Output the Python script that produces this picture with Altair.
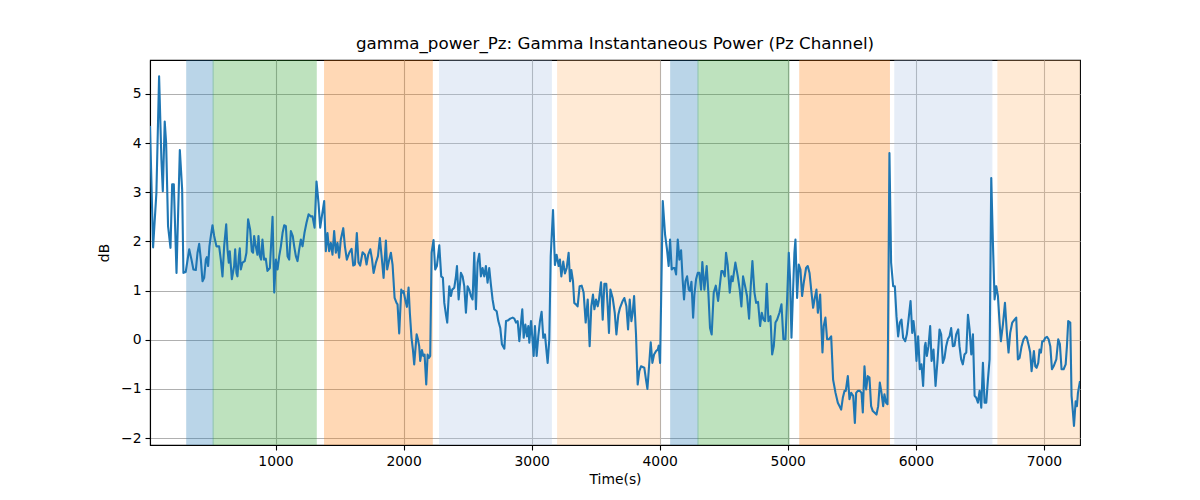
import altair as alt
import pandas as pd

# ---- line data (time in s, power in dB) ----
t_a = [20, 44, 70, 91, 109, 120, 135, 146, 161, 180, 193, 206, 227, 253, 271, 281, 299, 326, 344, 359,
       378, 391, 404, 417, 430, 443, 456, 464, 474, 484, 495, 508, 521, 539, 560, 573, 586, 599, 615, 625,
       635, 643, 659, 677, 685, 695, 703, 714, 721, 729, 742, 760, 773, 786, 802, 815, 825, 833, 846, 859,
       867, 878, 888, 898, 911, 924, 937, 956, 977, 990, 1003, 1016, 1029, 1042, 1055, 1068, 1081, 1094, 1107, 1120,
       1135, 1146, 1159, 1172, 1185, 1198, 1211, 1226]
v_a = [4.35, 1.88, 2.99, 5.36, 3.67, 3.02, 4.44, 4.00, 2.31, 1.87, 3.16, 3.16, 1.36, 3.86, 3.06, 1.36, 1.38, 1.84, 1.63, 1.43,
       1.42, 1.77, 1.95, 1.63, 1.19, 1.26, 1.63, 1.68, 1.50, 1.90, 2.11, 2.33, 2.11, 1.90, 1.90, 1.63, 1.29, 1.90, 2.35, 1.84,
       1.57, 1.80, 1.23, 1.50, 1.84, 1.36, 1.29, 1.70, 1.86, 1.43, 1.57, 1.60, 1.77, 2.45, 2.24, 1.80, 1.77, 2.11, 1.90, 1.73,
       2.11, 1.70, 1.63, 2.04, 1.63, 1.65, 1.40, 1.46, 2.50, 0.96, 1.63, 1.43, 1.70, 1.90, 2.17, 2.33, 2.31, 1.70, 1.63, 2.21,
       2.11, 1.90, 1.70, 1.60, 1.84, 2.04, 1.90, 2.17]

t_b = [1242, 1258, 1276, 1289, 1305, 1320, 1336, 1349, 1362, 1380, 1393, 1406, 1419, 1432, 1445, 1458, 1471, 1484, 1497, 1510,
       1529, 1542, 1557, 1576, 1594, 1607, 1620, 1635, 1648, 1661, 1680, 1698, 1711, 1724, 1740, 1753, 1766, 1784, 1800, 1815,
       1831, 1844, 1862, 1872, 1888, 1901, 1914, 1930, 1945, 1953, 1966, 1982, 1992, 2000, 2013, 2026, 2039, 2049, 2062, 2073,
       2083, 2102, 2112, 2122, 2130, 2143, 2154, 2164, 2177, 2188, 2198, 2208, 2219, 2234, 2247, 2260, 2279, 2294, 2307, 2318,
       2331, 2341, 2357, 2370, 2380, 2396, 2409, 2417, 2430]
v_b = [2.38, 2.55, 2.51, 2.51, 2.28, 3.22, 2.78, 2.28, 2.51, 2.82, 1.80, 2.17, 1.80, 1.97, 1.73, 2.21, 1.77, 1.97, 1.67, 2.04,
       2.27, 1.90, 1.63, 1.77, 1.85, 1.51, 1.53, 2.17, 1.57, 1.51, 1.78, 1.73, 1.53, 1.73, 1.84, 1.65, 1.36, 1.57, 1.70, 2.07,
       1.63, 1.26, 2.02, 1.43, 1.63, 1.77, 1.53, 0.85, 0.75, 0.72, 0.13, 1.02, 0.96, 0.99, 0.82, 0.67, 1.06, 0.55, 0.04, -0.20,
       -0.50, 0.11, 0.01, -0.13, -0.43, -0.21, -0.33, -0.30, -0.91, -0.30, -0.37, -0.33, 1.77, 2.03, 1.43, 1.50, 1.92, 1.29, 1.26, 0.75,
       0.51, 0.35, 1.09, 0.89, 1.02, 1.06, 1.29, 1.50, 0.82]

t_c = [2448, 2461, 2474, 2487, 2500, 2513, 2526, 2539, 2552, 2565, 2578, 2591, 2604, 2617, 2630, 2643, 2656, 2669, 2682, 2695,
       2708, 2727, 2740, 2755, 2768, 2787, 2800, 2813, 2833, 2852, 2865, 2878, 2891, 2904, 2917, 2927, 2938, 2951, 2964, 2974,
       2982, 2995, 3005, 3016, 3026, 3039, 3052, 3065, 3078, 3091, 3104, 3115, 3125, 3138, 3149, 3167, 3182, 3195, 3211, 3221,
       3232, 3247, 3260, 3274, 3289, 3300, 3310, 3323, 3333, 3346, 3359, 3375, 3391, 3406, 3422, 3438, 3453, 3466, 3479, 3490,
       3503, 3516, 3526, 3542, 3555, 3568, 3583, 3594, 3604, 3615, 3633, 3649]
v_c = [1.36, 1.29, 1.09, 0.55, 1.09, 1.02, 0.89, 0.82, 1.77, 0.62, 1.57, 1.75, 1.29, 1.46, 1.29, 1.50, 1.16, 1.46, 1.12, 0.82,
       0.62, 0.58, 0.38, 0.24, -0.09, -0.18, 0.38, 0.39, 0.43, 0.45, 0.43, 0.35, 0.38, -0.03, 0.35, 0.62, 0.04, 0.31, 0.07, 0.28,
       -0.06, 0.38, 0.07, -0.33, 0.28, -0.33, 0.07, 0.38, 0.57, 0.04, 0.11, -0.20, -0.47, 0.01, 1.70, 2.64, 1.52, 1.73, 1.50, 1.63,
       1.29, 1.59, 1.35, 1.46, 1.77, 1.19, 1.42, 1.19, 0.75, 0.72, 0.68, 1.09, 1.10, 0.96, 0.35, 0.82, -0.13, 0.68, 0.92, 0.62,
       0.82, 0.68, 0.82, 1.17, 0.41, 1.14, 1.14, 0.68, 0.14, 1.02, 0.85, 0.55]

t_d = [3662, 3677, 3690, 3711, 3724, 3740, 3753, 3766, 3779, 3789, 3800, 3815, 3828, 3841, 3854, 3880, 3893, 3904, 3914, 3930,
       3943, 3956, 3972, 3985, 3992, 4003, 4024, 4042, 4057, 4070, 4081, 4094, 4107, 4117, 4128, 4141, 4154, 4167, 4180, 4190,
       4201, 4214, 4227, 4237, 4248, 4261, 4271, 4284, 4297, 4310, 4323, 4333, 4349, 4367, 4380, 4393, 4406, 4422, 4438, 4456,
       4466, 4482, 4492, 4508, 4518, 4531, 4547, 4560, 4570, 4591, 4610, 4625, 4638, 4651, 4667, 4682, 4698, 4711, 4724, 4740,
       4753, 4768, 4784, 4797, 4810, 4823, 4836, 4849]
v_d = [0.11, 0.51, 0.65, 0.79, 0.85, 0.68, 0.21, 0.82, 0.38, 0.55, 0.89, 0.11, -0.91, -0.64, -0.54, -0.57, -0.81, -1.00, -0.64, -0.05,
       -0.47, -0.30, -0.23, -0.20, -0.12, -0.47, 2.82, 2.14, 1.84, 1.50, 2.04, 1.43, 1.46, 1.46, 1.33, 2.04, 1.63, 1.82, 1.19, 0.82,
       1.19, 1.29, 1.02, 0.99, 1.18, 0.45, 0.92, 1.23, 1.36, 1.36, 1.02, 1.58, 1.02, 1.50, 0.96, 0.24, 0.11, 0.96, 1.10, 0.79,
       1.02, 1.40, 1.40, 1.29, 1.77, 1.53, 0.96, 1.29, 1.19, 1.57, 1.29, 1.02, 0.68, 1.29, 1.09, 0.89, 0.43, 1.09, 1.60, 0.96,
       0.75, 0.77, 0.28, 0.55, 0.41, 0.38, 1.14, 0.38]

t_e = [4865, 4878, 4891, 4904, 4917, 4935, 4951, 4966, 4982, 4995, 5008, 5018, 5029, 5039, 5052, 5060, 5073, 5086, 5099, 5112,
       5125, 5143, 5156, 5170, 5183, 5198, 5209, 5224, 5235, 5242, 5253, 5261, 5271, 5281, 5294, 5307, 5321, 5339, 5354, 5373,
       5391, 5404, 5417, 5430, 5443, 5453, 5469, 5482, 5495, 5511, 5524, 5534, 5547, 5563, 5576, 5586, 5599, 5612, 5625, 5638,
       5651, 5664, 5677, 5693, 5706, 5719, 5732, 5745, 5755, 5768, 5779, 5794, 5807, 5823, 5836, 5849, 5862, 5875, 5888, 5901,
       5917, 5930, 5943, 5959, 5972, 5982, 5995, 6005, 6018, 6031, 6044, 6057, 6070]
v_e = [0.48, -0.30, -0.13, 0.35, 0.41, 0.55, 0.72, 0.01, 0.01, 0.82, 1.77, 1.23, 0.04, 0.82, 1.77, 2.04, 0.85, 1.53, 1.43, 0.89,
       1.16, 1.46, 1.50, 1.36, 1.02, 0.65, 0.82, 1.02, 0.55, 0.68, 0.92, 0.35, -0.26, 0.28, 0.45, 0.01, 0.01, 0.07, -0.81, -1.08,
       -1.28, -1.35, -1.42, -1.18, -1.04, -1.04, -0.74, -1.21, -1.08, -1.14, -1.69, -1.08, -1.04, -1.04, -1.08, -1.48, -0.54, -1.01, -0.74, -0.77,
       -1.35, -1.45, -1.48, -1.52, -1.35, -0.87, -1.08, -1.35, -1.11, -1.28, -1.31, 3.80, 1.57, 1.09, 1.09, 0.48, 0.07, 0.35, 0.41, 0.04,
       -0.03, 0.11, 0.41, 0.79, 0.14, 0.38, 0.07, -0.43, 0.07, -0.60, -0.50, -0.94, -0.13]

t_f = [6076, 6086, 6099, 6112, 6123, 6138, 6154, 6170, 6185, 6198, 6211, 6224, 6237, 6250, 6263, 6276, 6289, 6302, 6315, 6331,
       6341, 6354, 6367, 6380, 6394, 6407, 6420, 6433, 6446, 6459, 6472, 6485, 6498, 6511, 6524, 6537, 6550, 6563, 6576, 6589,
       6602, 6615, 6628, 6641, 6654, 6664, 6680, 6696, 6711, 6724, 6737, 6753, 6771, 6784, 6797, 6810, 6826, 6841, 6857, 6867,
       6883, 6893, 6904, 6922, 6933, 6943, 6956, 6966, 6977, 6987, 6998, 7011, 7024, 7037, 7050, 7063, 7076, 7097, 7112, 7125,
       7138, 7154, 7170, 7180, 7190, 7206, 7216, 7227, 7235, 7248, 7258, 7266, 7282]
v_f = [-0.06, -0.33, -0.13, 0.28, -0.43, -0.20, -0.94, -0.40, 0.21, 0.11, -0.47, -0.37, -0.13, 0.01, 0.07, 0.24, -0.13, -0.12, 0.11, 0.21,
       -0.13, -0.40, -0.50, -0.30, -0.26, 0.51, 0.21, -0.30, 0.11, -1.14, -1.18, -1.28, -1.04, -1.38, -0.47, -1.28, -1.28, -0.81, -0.40, 3.29,
       1.97, 0.82, 1.09, 0.89, 0.35, -0.03, 0.31, 0.75, 0.14, -0.26, 0.14, 0.35, 0.41, 0.45, -0.40, -0.37, -0.13, 0.01, 0.07, 0.04,
       -0.13, -0.26, -0.64, -0.23, -0.54, -0.57, -0.47, -0.20, -0.26, -0.03, -0.03, 0.04, 0.06, 0.01, -0.13, -0.60, -0.54, -0.40, 0.01, -0.09,
       -0.60, -0.60, -0.50, -0.13, 0.38, 0.35, -1.14, -1.48, -1.75, -1.25, -1.35, -1.08, -0.84]

times = t_a + t_b + t_c + t_d + t_e + t_f
values = v_a + v_b + v_c + v_d + v_e + v_f
line_df = pd.DataFrame({"t": times, "v": values})

# ---- shaded epochs ----
span_start = [307, 513, 1383, 2281, 3203, 4086, 4299, 5094, 5836, 6641]
span_end = [513, 1318, 2224, 3154, 4002, 4299, 5010, 5794, 6594, 7300]
span_color = ["#1f77b4", "#2ca02c", "#ff7f0e", "#aec7e8", "#ffbb78",
              "#1f77b4", "#2ca02c", "#ff7f0e", "#aec7e8", "#ffbb78"]
span_df = pd.DataFrame({"start": span_start, "end": span_end, "c": span_color})

x_ticks = [1000, 2000, 3000, 4000, 5000, 6000, 7000]
y_ticks = [-2, -1, 0, 1, 2, 3, 4, 5]

x_scale = alt.Scale(domain=[20, 7282], nice=False, zero=False)
y_scale = alt.Scale(domain=[-2.14, 5.69], nice=False, zero=False)

spans = alt.Chart(span_df).mark_rect(clip=True, opacity=0.3, strokeWidth=1).encode(
    x=alt.X("start:Q", scale=x_scale, axis=alt.Axis(values=x_ticks, title="Time(s)", format="d")),
    x2="end:Q",
    color=alt.Color("c:N", scale=None),
    stroke=alt.Color("c:N", scale=None),
)

line = alt.Chart(line_df).mark_line(color="#1f77b4", strokeWidth=2.1, strokeJoin="round", clip=True).encode(
    x=alt.X("t:Q", scale=x_scale, axis=alt.Axis(values=x_ticks, title="Time(s)", format="d")),
    y=alt.Y("v:Q", scale=y_scale, axis=alt.Axis(values=y_ticks, title="dB")),
)

chart = alt.layer(spans, line).properties(
    width=930,
    height=385,
    title=alt.TitleParams(
        "gamma_power_Pz: Gamma Instantaneous Power (Pz Channel)",
        font="DejaVu Sans", fontSize=16.7, fontWeight="normal", color="black",
        anchor="middle", offset=7,
    ),
    autosize=alt.AutoSizeParams(type="none"),
    padding={"left": 150, "top": 60, "right": 120, "bottom": 55},
).configure_view(
    stroke="black", strokeWidth=1.1
).configure_axis(
    domainColor="black", domainWidth=1.1, tickColor="black", tickWidth=1.1, tickSize=5,
    labelFont="DejaVu Sans", labelFontSize=13.9, labelColor="black", labelPadding=4,
    titleFont="DejaVu Sans", titleFontSize=13.9, titleFontWeight="normal", titleColor="black",
    gridColor="#b0b0b0", gridWidth=1.1,
).configure_axisX(titlePadding=5).configure_axisY(titlePadding=9)

chart.save("out.html", embed_options={"renderer": "svg", "actions": False})
